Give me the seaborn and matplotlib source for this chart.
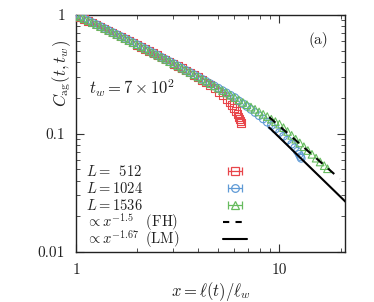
import numpy as np
import pandas as pd
import matplotlib
matplotlib.use("Agg")
import matplotlib.pyplot as plt
import seaborn as sns
from matplotlib.ticker import FixedLocator, NullFormatter, LogLocator
from matplotlib.lines import Line2D
from matplotlib.offsetbox import TextArea, PackerBase
from matplotlib.transforms import Bbox

# ---------------- data ----------------
x_512 = [1.000, 1.047, 1.096, 1.148, 1.202, 1.259, 1.318, 1.380, 1.445, 1.514,
         1.585, 1.660, 1.738, 1.820, 1.905, 1.995, 2.089, 2.188, 2.291, 2.399,
         2.512, 2.630, 2.754, 2.884, 3.020, 3.162, 3.311, 3.467, 3.631, 3.802,
         3.981, 4.169, 4.365, 4.571, 4.786, 5.012, 5.248, 5.495, 5.689, 5.861,
         5.998, 6.109, 6.209, 6.295, 6.368, 6.427, 6.486]
c_512 = [1.000, 0.964, 0.929, 0.895, 0.862, 0.830, 0.799, 0.769, 0.740, 0.711,
         0.684, 0.658, 0.633, 0.608, 0.584, 0.561, 0.539, 0.518, 0.497, 0.477,
         0.458, 0.439, 0.422, 0.404, 0.388, 0.372, 0.356, 0.341, 0.327, 0.313,
         0.2985, 0.2844, 0.2704, 0.2559, 0.2410, 0.2249, 0.2089, 0.1950, 0.1841, 0.1738,
         0.1641, 0.1549, 0.1462, 0.1380, 0.1318, 0.1274, 0.1230]

x_1024 = [1.000, 1.047, 1.096, 1.148, 1.202, 1.259, 1.318, 1.380, 1.445, 1.514,
          1.585, 1.660, 1.738, 1.820, 1.905, 1.995, 2.089, 2.188, 2.291, 2.399,
          2.512, 2.630, 2.754, 2.884, 3.020, 3.162, 3.311, 3.467, 3.631, 3.802,
          3.981, 4.169, 4.365, 4.571, 4.786, 5.012, 5.248, 5.495, 5.754, 6.026,
          6.310, 6.607, 6.918, 7.244, 7.586, 7.943, 8.318, 8.710, 9.120, 9.550,
          10.00, 10.47, 10.96, 11.48, 11.89, 12.25, 12.50, 12.68, 12.79]
c_1024 = [1.000, 0.964, 0.929, 0.895, 0.862, 0.830, 0.799, 0.769, 0.740, 0.711,
          0.684, 0.658, 0.633, 0.608, 0.584, 0.561, 0.539, 0.518, 0.497, 0.477,
          0.458, 0.439, 0.422, 0.404, 0.388, 0.372, 0.356, 0.341, 0.327, 0.313,
          0.300, 0.287, 0.275, 0.263, 0.252, 0.241, 0.230, 0.220, 0.210, 0.201,
          0.1884, 0.1786, 0.1690, 0.1596, 0.1503, 0.1413, 0.1327, 0.1245, 0.1167, 0.1091,
          0.1019, 0.0948, 0.0881, 0.0813, 0.0759, 0.0708, 0.0668, 0.0638, 0.0617]

x_1536 = [1.000, 1.047, 1.096, 1.148, 1.202, 1.259, 1.318, 1.380, 1.445, 1.514,
          1.585, 1.660, 1.738, 1.820, 1.905, 1.995, 2.089, 2.188, 2.291, 2.399,
          2.512, 2.630, 2.754, 2.884, 3.020, 3.162, 3.311, 3.467, 3.631, 3.802,
          3.981, 4.169, 4.365, 4.571, 4.786, 5.012, 5.248, 5.495, 5.754, 6.026,
          6.310, 6.607, 6.918, 7.244, 7.586, 7.943, 8.318, 8.710, 9.120, 9.550,
          10.00, 10.47, 10.96, 11.48, 12.02, 12.59, 13.18, 13.80, 14.45, 15.14,
          15.85, 16.60, 17.22]
c_1536 = [1.000, 0.964, 0.929, 0.895, 0.862, 0.830, 0.799, 0.769, 0.740, 0.711,
          0.684, 0.658, 0.633, 0.608, 0.584, 0.561, 0.539, 0.518, 0.497, 0.477,
          0.458, 0.439, 0.422, 0.404, 0.388, 0.372, 0.356, 0.341, 0.327, 0.313,
          0.300, 0.287, 0.275, 0.263, 0.252, 0.241, 0.230, 0.220, 0.210, 0.201,
          0.192, 0.183, 0.175, 0.167, 0.160, 0.152, 0.145, 0.139, 0.132, 0.126,
          0.120, 0.112, 0.104, 0.0964, 0.0895, 0.0832, 0.0773, 0.0718, 0.0667, 0.0619,
          0.0575, 0.0535, 0.0504]

# power-law guides: amplitude, exponent, x-range
fh_amp, fh_exp, fh_range = 3.65, -1.5, [8.9, 19.8]
lm_amp, lm_exp, lm_range = 4.33, -1.67, [8.9, 22.0]

series_labels = [r"$L=\hspace{0.5}512$", r"$L=1024$", r"$L=1536$"]
fh_label = r"$\propto x^{-1.5}\hspace{0.95}\mathrm{(FH)}$"
lm_label = r"$\propto x^{-1.67}\hspace{0.5}\mathrm{(LM)}$"

colors = ["#e8454a", "#5f9ad6", "#66bb5e"]
markers = ["s", "o", "^"]

# ---------------- style ----------------
sns.set_theme(style="ticks")
plt.rcParams["font.family"] = ["serif"]
plt.rcParams["font.serif"] = ["cmr10", "DejaVu Serif"]
plt.rcParams["mathtext.fontset"] = "cm"
plt.rcParams["axes.formatter.use_mathtext"] = True
plt.rcParams["axes.unicode_minus"] = False

fig = plt.figure(figsize=(3.74, 3.02), dpi=100)
ax = fig.add_axes([76 / 374, 1 - 252 / 302, 269 / 374, 237 / 302])

df = pd.concat([
    pd.DataFrame({"x": x_512, "c": c_512, "L": "512"}),
    pd.DataFrame({"x": x_1024, "c": c_1024, "L": "1024"}),
    pd.DataFrame({"x": x_1536, "c": c_1536, "L": "1536"}),
])

for (lab, col, mk) in zip(["512", "1024", "1536"], colors, markers):
    sub = df[df["L"] == lab]
    sns.scatterplot(data=sub, x="x", y="c", marker=mk, s=30, facecolor="none",
                    edgecolor=col, linewidth=0.8, ax=ax, legend=False, zorder=3)

fh_x = np.array(fh_range)
lm_x = np.array(lm_range)
sns.lineplot(x=fh_x, y=fh_amp * fh_x ** fh_exp, ax=ax, color="black",
             linestyle=(0, (4, 3.5)), linewidth=1.5, zorder=4)
sns.lineplot(x=lm_x, y=lm_amp * lm_x ** lm_exp, ax=ax, color="black",
             linewidth=1.5, zorder=4)

ax.set_xscale("log")
ax.set_yscale("log")
ax.set_xlim(1, 21)
ax.set_ylim(0.01, 1)

ax.xaxis.set_major_locator(FixedLocator([1, 10]))
ax.set_xticklabels(["1", "10"])
ax.xaxis.set_minor_locator(LogLocator(base=10, subs=np.arange(2, 10)))
ax.xaxis.set_minor_formatter(NullFormatter())
ax.yaxis.set_major_locator(FixedLocator([0.01, 0.1, 1]))
ax.set_yticklabels(["0.01", "0.1", "1"])
ax.yaxis.set_minor_locator(LogLocator(base=10, subs=np.arange(2, 10)))
ax.yaxis.set_minor_formatter(NullFormatter())

ax.tick_params(which="both", direction="in", top=True, right=True,
               colors="#333333", labelcolor="#222222")
ax.tick_params(which="major", length=6, width=0.8, labelsize=11, pad=8)
ax.tick_params(which="minor", length=3, width=0.6)
for sp in ax.spines.values():
    sp.set_linewidth(1.0)
    sp.set_color("#222222")

ax.set_xlabel(r"$x=\ell(t)/\ell_w$", fontsize=12, color="#222222")
ax.xaxis.set_label_coords(0.5, -0.165)
ax.xaxis.label.set_va("center")
ax.set_ylabel(r"$C_{\rm ag}(t,t_w)$", fontsize=12, color="#222222")
ax.yaxis.set_label_coords(-0.055, 0.755)
ax.yaxis.label.set_va("center")

ax.text(0.90, 0.895, "(a)", transform=ax.transAxes, fontsize=11,
        ha="center", va="center", color="#222222")
ax.text(0.05, 0.69, r"$t_w=7\times10^2$", transform=ax.transAxes, fontsize=12,
        ha="left", va="center", color="#222222")

# legend proxies
handles = []
for col, mk in zip(colors, markers):
    h = ax.errorbar([np.nan], [np.nan], xerr=[1], fmt=mk, mfc="none", mec=col,
                    ecolor=col, ms=5.5, mew=0.9, elinewidth=0.9, capsize=3,
                    capthick=0.9)
    handles.append(h)
handles.append(Line2D([], [], color="black", linestyle=(0, (3, 3)), linewidth=1.5))
handles.append(Line2D([], [], color="black", linewidth=1.5))
labels = series_labels + [fh_label, lm_label]

leg = ax.legend(handles, labels, loc="lower left", bbox_to_anchor=(0.037, 0.022),
                frameon=False, markerfirst=False, fontsize=10.5, handlelength=1.6,
                handletextpad=3.0, labelspacing=0.0, borderaxespad=0.0,
                borderpad=0.0)
for t in leg.get_texts():
    t.set_color("#222222")

# left-align the label texts and give every row the same height
tas = []
def _walk(box):
    for ch in box.get_children():
        if isinstance(ch, TextArea):
            tas.append(ch)
        elif isinstance(ch, PackerBase):
            _walk(ch)
_walk(leg._legend_handle_box)
orig_fns = [ta.get_bbox for ta in tas]

def _make_bbox(i):
    def gb(renderer):
        bbs = [f(renderer) for f in orig_fns]
        wmax = max(b.width for b in bbs)
        ref = bbs[1]
        h = renderer.points_to_pixels(17.0 * 72 / 100.0)
        return Bbox.from_bounds(bbs[i].x0, ref.y0, wmax, h)
    return gb

for i, ta in enumerate(tas):
    ta.get_bbox = _make_bbox(i)

fig.savefig("out.png", dpi=100)
